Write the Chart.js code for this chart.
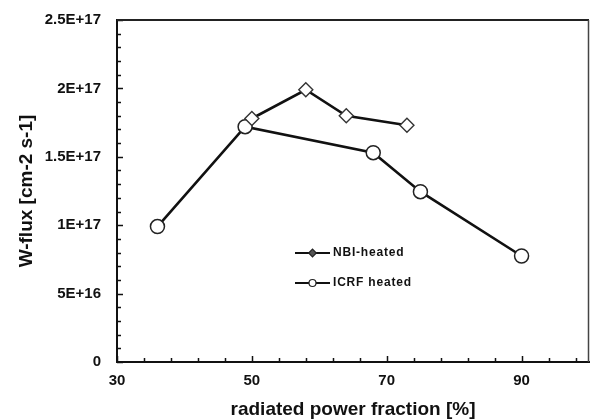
<!DOCTYPE html>
<html>
<head>
<meta charset="utf-8">
<title>W-flux vs radiated power fraction</title>
<script src="https://cdn.jsdelivr.net/npm/chart.js@4.4.1/dist/chart.umd.min.js"></script>
<style>
  html, body { margin: 0; padding: 0; background: #fff; }
  #wrap { width: 590px; height: 420px; }
</style>
</head>
<body>
<div id="wrap"><canvas id="chart" width="590" height="420"></canvas></div>
<script>
"use strict";

// ── Data ──────────────────────────────────────────────────────────────────
const nbiX  = [50, 58, 64, 73];
const nbiY  = [1.78e17, 1.99e17, 1.80e17, 1.73e17];
const icrfX = [36, 49, 68, 75, 90];
const icrfY = [0.99e17, 1.72e17, 1.53e17, 1.245e17, 0.775e17];

const seriesNames = ["NBI-heated", "ICRF heated"];

const xTickLabels = ["30", "50", "70", "90"];
const yTickLabels = ["0", "5E+16", "1E+17", "1.5E+17", "2E+17", "2.5E+17"];
const xMinorStep  = 4;
const yMinorStep  = 1e16;

const FONT = "'Liberation Sans', Arial, sans-serif";
const INK  = "#111";

const toPoints = (xs, ys) => xs.map((x, i) => ({ x, y: ys[i] }));

// ── Axis ticks (major labelled, minor unlabelled) ─────────────────────────
const xMajor = xTickLabels.map(Number);
const yMajor = yTickLabels.map(Number);
const X_MIN = 30, X_MAX = 100;
const Y_MIN = 0,  Y_MAX = yMajor[yMajor.length - 1];

function xTickValues() {
  const out = [];
  for (let v = X_MIN; v < X_MAX; v += xMinorStep) out.push(v);
  return out;
}
function yTickValues() {
  const out = [];
  const n = Math.round((Y_MAX - Y_MIN) / yMinorStep);
  for (let k = 0; k <= n; k++) out.push(Y_MIN + k * yMinorStep);
  return out;
}

// keep the plot box fixed: no extra room for overhanging tick labels
function noLabelPadding(s) {
  s.paddingLeft = s.paddingRight = s.paddingTop = s.paddingBottom = 0;
}

// ── Plugin: inward tick marks + plot frame ────────────────────────────────
const frameTicks = {
  id: "frameTicks",
  afterDatasetsDraw(chart) {
    const { ctx, chartArea: a, scales: { x, y } } = chart;
    ctx.save();
    ctx.strokeStyle = INK;
    ctx.lineWidth = 1.5;
    ctx.beginPath();
    x.ticks.forEach(t => {
      const px = Math.round(x.getPixelForValue(t.value)) + 0.5;
      const len = xMajor.includes(t.value) ? 6 : 4;
      ctx.moveTo(px, a.bottom);
      ctx.lineTo(px, a.bottom - len);
    });
    y.ticks.forEach(t => {
      const py = Math.round(y.getPixelForValue(t.value)) + 0.5;
      const major = Math.round(t.value / yMinorStep) % 5 === 0;
      ctx.moveTo(a.left, py);
      ctx.lineTo(a.left + (major ? 6 : 4), py);
    });
    ctx.stroke();

    // top and right edges of the frame
    ctx.lineWidth = 2;
    ctx.strokeStyle = "#222";
    ctx.beginPath();
    ctx.moveTo(a.left, a.top);
    ctx.lineTo(a.right, a.top);
    ctx.stroke();
    ctx.lineWidth = 1.5;
    ctx.strokeStyle = "#444";
    ctx.beginPath();
    ctx.moveTo(a.right - 0.5, a.top);
    ctx.lineTo(a.right - 0.5, a.bottom);
    ctx.stroke();
    ctx.restore();
  },
};

// ── Plugin: in-plot legend (line with small marker) ───────────────────────
const inlineLegend = {
  id: "inlineLegend",
  afterDraw(chart) {
    const { ctx, chartArea: a } = chart;
    const x0 = a.left + 178, x1 = a.left + 213, tx = a.left + 216;
    const rows = [a.top + 233, a.top + 263];
    ctx.save();
    chart.data.datasets.forEach((ds, i) => {
      const yy = rows[i];
      const cx = (x0 + x1) / 2;
      ctx.strokeStyle = INK;
      ctx.lineWidth = 2.2;
      ctx.beginPath();
      ctx.moveTo(x0, yy);
      ctx.lineTo(x1, yy);
      ctx.stroke();

      ctx.fillStyle = ds.pointStyle === "circle" ? "#fff" : "#555";
      ctx.strokeStyle = "#222";
      ctx.lineWidth = 1.2;
      ctx.beginPath();
      if (ds.pointStyle === "circle") {
        ctx.arc(cx, yy, 3.5, 0, Math.PI * 2);
      } else {
        const r = 3.8;
        ctx.moveTo(cx - r, yy); ctx.lineTo(cx, yy - r);
        ctx.lineTo(cx + r, yy); ctx.lineTo(cx, yy + r); ctx.closePath();
      }
      ctx.fill();
      ctx.stroke();

      ctx.fillStyle = INK;
      ctx.font = "bold 12px " + FONT;
      ctx.textBaseline = "middle";
      ctx.textAlign = "left";
      if ("letterSpacing" in ctx) ctx.letterSpacing = "0.8px";
      ctx.fillText(ds.label, tx, yy);
    });
    ctx.restore();
  },
};

// ── Chart ─────────────────────────────────────────────────────────────────
new Chart(document.getElementById("chart"), {
  type: "scatter",
  data: {
    datasets: [
      {
        label: seriesNames[0],
        data: toPoints(nbiX, nbiY),
        showLine: true,
        borderColor: INK,
        borderWidth: 2.6,
        pointStyle: "rectRot",
        pointRadius: 7,
        pointBorderWidth: 1.4,
        pointBorderColor: "#333",
        pointBackgroundColor: "#fff",
      },
      {
        label: seriesNames[1],
        data: toPoints(icrfX, icrfY),
        showLine: true,
        borderColor: INK,
        borderWidth: 2.6,
        pointStyle: "circle",
        pointRadius: 7,
        pointBorderWidth: 1.5,
        pointBorderColor: "#222",
        pointBackgroundColor: "#fff",
      },
    ],
  },
  options: {
    responsive: false,
    devicePixelRatio: 1,
    animation: false,
    clip: false,
    layout: { autoPadding: false, padding: { top: 20, right: 1, left: 0, bottom: 0 } },
    plugins: {
      legend: { display: false },
      tooltip: { enabled: false },
    },
    scales: {
      x: {
        type: "linear",
        min: X_MIN,
        max: X_MAX,
        afterBuildTicks: s => { s.ticks = xTickValues().map(v => ({ value: v })); },
        afterFit: s => { s.height = 58; noLabelPadding(s); },
        grid: { display: false, drawTicks: false },
        border: { display: true, color: INK, width: 2 },
        ticks: {
          autoSkip: false,
          maxRotation: 0,
          padding: 10,
          color: INK,
          font: { family: FONT, size: 15, weight: "bold" },
          callback: v => {
            const i = xMajor.indexOf(v);
            return i >= 0 ? xTickLabels[i] : "";
          },
        },
        title: {
          display: true,
          text: "radiated power fraction [%]",
          color: INK,
          font: { family: FONT, size: 19, weight: "bold" },
          padding: { top: 0, bottom: -1 },
        },
      },
      y: {
        type: "linear",
        min: Y_MIN,
        max: Y_MAX,
        afterBuildTicks: s => { s.ticks = yTickValues().map(v => ({ value: v })); },
        afterFit: s => { s.width = 117; noLabelPadding(s); },
        grid: { display: false, drawTicks: false },
        border: { display: true, color: INK, width: 2 },
        ticks: {
          autoSkip: false,
          padding: 16,
          color: INK,
          font: { family: FONT, size: 15, weight: "bold" },
          callback: v => {
            const k = Math.round(v / yMinorStep);
            return k % 5 === 0 ? yTickLabels[k / 5] : "";
          },
        },
        title: {
          display: true,
          text: "W-flux [cm-2 s-1]",
          color: INK,
          font: { family: FONT, size: 19, weight: "bold" },
          padding: { top: 15, bottom: 0 },
        },
      },
    },
  },
  plugins: [frameTicks, inlineLegend],
});
</script>
</body>
</html>
